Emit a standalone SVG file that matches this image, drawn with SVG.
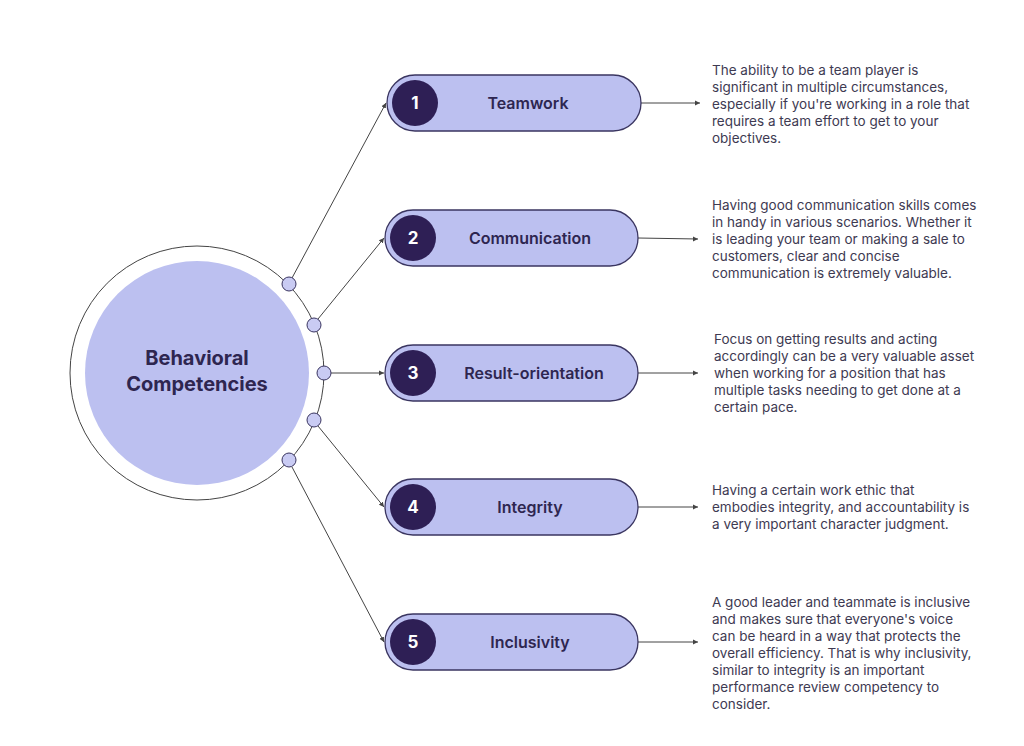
<svg xmlns="http://www.w3.org/2000/svg" width="1024" height="746" viewBox="0 0 1024 746">
<style>
.pill{fill:#bcc0f0;stroke:#3a3560;stroke-width:1.3}
.num{fill:#2e1f55}
.nt{font:bold 17px "Inter","Liberation Sans",sans-serif;fill:#fff;text-anchor:middle}
.lb{font:600 16px "Inter","Liberation Sans",sans-serif;fill:#2e2650;text-anchor:middle}
.d{font:13.5px "Inter","Liberation Sans",sans-serif;fill:#3e3a52}
.c{stroke:#444;stroke-width:1;fill:none;marker-end:url(#a)}
.dot{fill:#c9cbf3;stroke:#3a3560;stroke-width:1}
</style>
<defs><marker id="a" markerWidth="6" markerHeight="6" refX="5" refY="3" orient="auto"><path d="M0,0.5L5,3L0,5.5z" fill="#444"/></marker></defs>
<rect width="1024" height="746" fill="#fff"/>
<g id="center">
<circle cx="197" cy="373" r="127" fill="#fff" stroke="#444" stroke-width="1"/>
<circle cx="197" cy="373" r="112" fill="#bcc0f0"/>
<text x="197" y="365" font-family="Inter,'Liberation Sans',sans-serif" font-weight="bold" font-size="20" fill="#2e2650" text-anchor="middle">Behavioral</text>
<text x="197" y="391" font-family="Inter,'Liberation Sans',sans-serif" font-weight="bold" font-size="20" fill="#2e2650" text-anchor="middle">Competencies</text>
</g>
<g id="connectors">
<line class="c" x1="292" y1="278" x2="386" y2="103"/>
<line class="c" x1="318" y1="319" x2="384" y2="238"/>
<line class="c" x1="331" y1="373" x2="384" y2="373"/>
<line class="c" x1="318" y1="426" x2="384" y2="507"/>
<line class="c" x1="292" y1="467" x2="384" y2="642"/>
<line class="c" x1="641" y1="103" x2="700" y2="103"/>
<line class="c" x1="638" y1="238" x2="698" y2="239"/>
<line class="c" x1="638" y1="373" x2="698" y2="373"/>
<line class="c" x1="638" y1="507" x2="698" y2="507"/>
<line class="c" x1="638" y1="642" x2="698" y2="642"/>
</g>
<g id="dots">
<circle class="dot" cx="289" cy="284" r="7"/>
<circle class="dot" cx="314" cy="325" r="7"/>
<circle class="dot" cx="324" cy="373" r="7"/>
<circle class="dot" cx="314" cy="420" r="7"/>
<circle class="dot" cx="289" cy="460" r="7"/>
</g>
<g id="n1"><rect class="pill" x="387" y="75" width="254" height="56" rx="28"/><circle class="num" cx="415" cy="103" r="23"/><text class="nt" x="415" y="109">1</text><text class="lb" x="528" y="109">Teamwork</text>
<text class="d" x="712" y="75">The ability to be a team player is</text><text class="d" x="712" y="92">significant in multiple circumstances,</text><text class="d" x="712" y="109">especially if you're working in a role that</text><text class="d" x="712" y="126">requires a team effort to get to your</text><text class="d" x="712" y="143">objectives.</text></g>
<g id="n2"><rect class="pill" x="385" y="210" width="253" height="56" rx="28"/><circle class="num" cx="413" cy="238" r="23"/><text class="nt" x="413" y="244">2</text><text class="lb" x="530" y="244">Communication</text>
<text class="d" x="712" y="210">Having good communication skills comes</text><text class="d" x="712" y="227">in handy in various scenarios. Whether it</text><text class="d" x="712" y="244">is leading your team or making a sale to</text><text class="d" x="712" y="261">customers, clear and concise</text><text class="d" x="712" y="278">communication is extremely valuable.</text></g>
<g id="n3"><rect class="pill" x="385" y="345" width="253" height="56" rx="28"/><circle class="num" cx="413" cy="373" r="23"/><text class="nt" x="413" y="379">3</text><text class="lb" x="534" y="379">Result-orientation</text>
<text class="d" x="714" y="344">Focus on getting results and acting</text><text class="d" x="714" y="361">accordingly can be a very valuable asset</text><text class="d" x="714" y="378">when working for a position that has</text><text class="d" x="714" y="395">multiple tasks needing to get done at a</text><text class="d" x="714" y="412">certain pace.</text></g>
<g id="n4"><rect class="pill" x="385" y="479" width="253" height="56" rx="28"/><circle class="num" cx="413" cy="507" r="23"/><text class="nt" x="413" y="513">4</text><text class="lb" x="530" y="513">Integrity</text>
<text class="d" x="712" y="495">Having a certain work ethic that</text><text class="d" x="712" y="512">embodies integrity, and accountability is</text><text class="d" x="712" y="529">a very important character judgment.</text></g>
<g id="n5"><rect class="pill" x="385" y="614" width="253" height="56" rx="28"/><circle class="num" cx="413" cy="642" r="23"/><text class="nt" x="413" y="648">5</text><text class="lb" x="530" y="648">Inclusivity</text>
<text class="d" x="712" y="607">A good leader and teammate is inclusive</text><text class="d" x="712" y="624">and makes sure that everyone's voice</text><text class="d" x="712" y="641">can be heard in a way that protects the</text><text class="d" x="712" y="658">overall efficiency. That is why inclusivity,</text><text class="d" x="712" y="675">similar to integrity is an important</text><text class="d" x="712" y="692">performance review competency to</text><text class="d" x="712" y="709">consider.</text></g>
</svg>
